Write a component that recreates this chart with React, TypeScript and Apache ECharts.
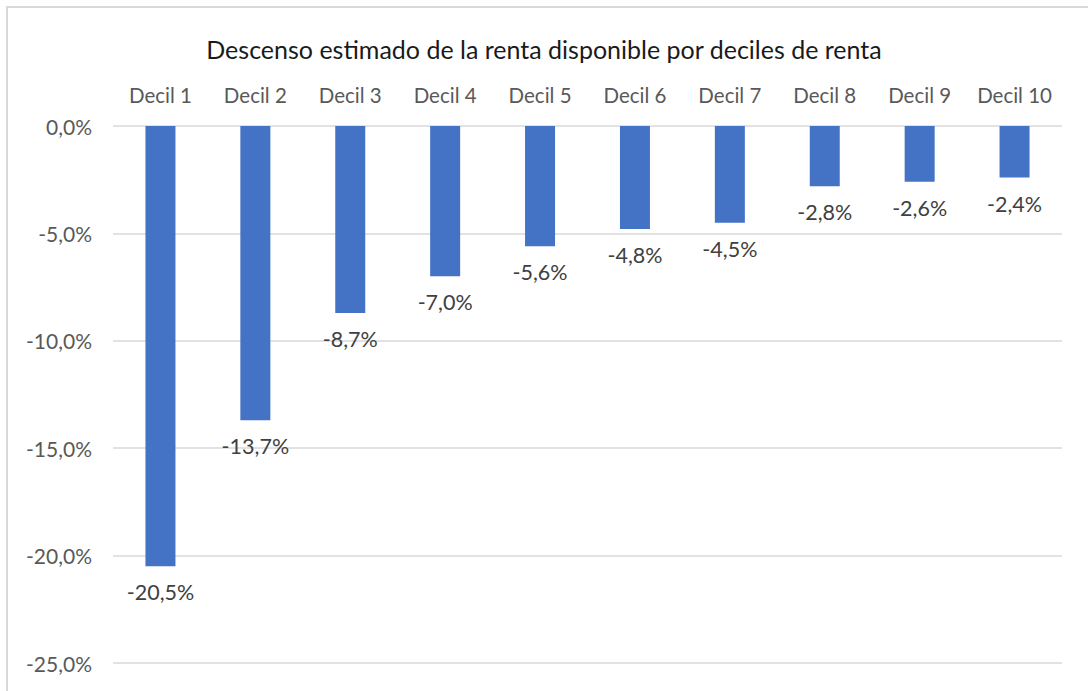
import React, { useEffect, useRef } from "react";
import * as echarts from "echarts";

const categories = ["Decil 1", "Decil 2", "Decil 3", "Decil 4", "Decil 5", "Decil 6", "Decil 7", "Decil 8", "Decil 9", "Decil 10"];
const values = [-20.5, -13.7, -8.7, -7.0, -5.6, -4.8, -4.5, -2.8, -2.6, -2.4];
const titleText = "Descenso estimado de la renta disponible por deciles de renta";

const fmt = (v: number) => v.toFixed(1).replace(".", ",") + "%";

export default function App() {
  const ref = useRef<HTMLDivElement>(null);
  useEffect(() => {
    if (!ref.current) return;
    const chart = echarts.init(ref.current, undefined, { renderer: "svg" });
    const font = "Lato";
    chart.setOption({
      animation: false,
      backgroundColor: "#ffffff",
      textStyle: { fontFamily: font },
      title: {
        text: titleText,
        left: "center",
        top: 31,
        textStyle: { fontFamily: font, fontSize: 25, fontWeight: "normal", color: "#1a1a1a" },
      },
      graphic: [
        {
          type: "rect",
          shape: { x: 7, y: 7, width: 1100, height: 700 },
          style: { fill: "none", stroke: "#D9D9D9", lineWidth: 2 },
          silent: true,
        },
      ],
      grid: { left: 113, right: 26, top: 126, bottom: 28 },
      xAxis: {
        type: "category",
        position: "top",
        data: categories,
        axisLine: { show: false },
        axisTick: { show: false },
        axisLabel: { color: "#595959", fontSize: 20.5, margin: 21, fontFamily: font, interval: 0, hideOverlap: false },
      },
      yAxis: {
        type: "value",
        min: -25,
        max: 0,
        interval: 5,
        axisLine: { show: false },
        axisTick: { show: false },
        axisLabel: { color: "#595959", fontSize: 21, margin: 21, fontFamily: font, formatter: (v: number) => fmt(v) },
        splitLine: { lineStyle: { color: "#D9D9D9", width: 1.5 } },
      },
      series: [
        {
          type: "bar",
          data: values,
          barWidth: 30,
          itemStyle: { color: "#4472C4" },
          label: {
            show: true,
            position: "bottom",
            distance: 15,
            color: "#404040",
            fontSize: 21.5,
            fontFamily: font,
            formatter: (p: any) => fmt(p.value),
          },
        },
      ],
    });
    return () => chart.dispose();
  }, []);
  return <div ref={ref} style={{ position: "fixed", left: 0, top: 0, width: 1088, height: 691 }} />;
}
